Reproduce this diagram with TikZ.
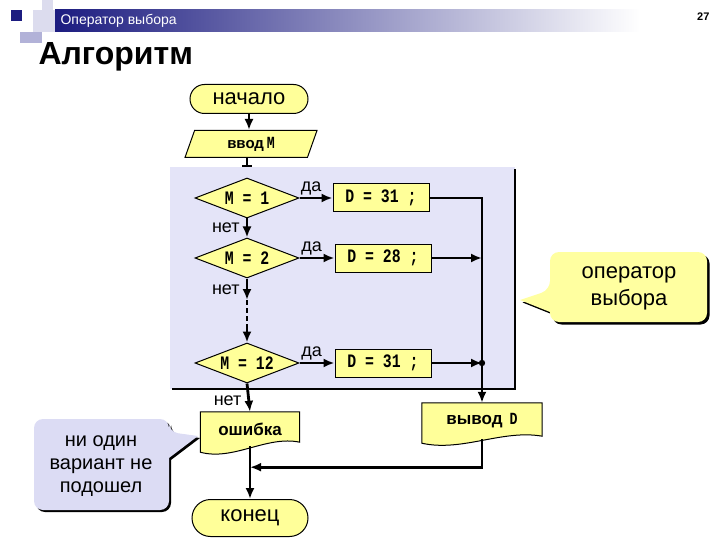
\documentclass[tikz,border=0pt]{standalone}
\usepackage{fontspec}
\setmainfont{Liberation Sans}
\newfontfamily\codefont{Liberation Mono}[FakeStretch=0.78]
\usetikzlibrary{calc}
\usetikzlibrary{arrows.meta}
\usetikzlibrary{shapes.geometric}
\usetikzlibrary{shapes.misc}
\definecolor{flowyellow}{RGB}{255, 255, 153}
\definecolor{noteyellow}{RGB}{255, 255, 160}
\definecolor{blocklavender}{RGB}{228, 228, 248}
\definecolor{notelavender}{RGB}{220, 220, 244}
\definecolor{headnavy}{RGB}{28, 28, 128}
\definecolor{decolight}{RGB}{220, 220, 238}
\definecolor{decomid}{RGB}{178, 178, 216}
\pgfdeclarelayer{back}
\pgfdeclarelayer{mid}
\pgfsetlayers{back,mid,main}
\tikzset{
  terminal/.style={rounded rectangle, draw, line width=1pt, fill=flowyellow, minimum width=118pt, minimum height=29pt, inner sep=0pt, font=\fontsize{22}{24}\selectfont},
  inputbox/.style={trapezium, trapezium left angle=56, trapezium right angle=124, trapezium stretches body, draw, line width=1pt, fill=flowyellow, minimum width=132pt, minimum height=27pt, inner sep=0pt},
  decision/.style={diamond, draw, line width=1pt, fill=flowyellow, aspect=2.6, minimum width=104pt, minimum height=40pt, inner sep=0pt, font=\codefont\bfseries\fontsize{19}{20}\selectfont},
  process/.style={rectangle, draw, line width=1pt, fill=flowyellow, minimum width=96pt, minimum height=28pt, inner sep=0pt, font=\codefont\bfseries\fontsize{19}{20}\selectfont},
  docbox/.style={rectangle, inner sep=0pt, font=\bfseries\fontsize{17}{19}\selectfont},
  flow/.style={line width=2.8pt, -{Latex[length=11pt, width=9pt]}},
  wire/.style={line width=2.8pt},
  lbl/.style={font=\fontsize{18}{20}\selectfont, inner sep=2pt},
  notetext/.style={align=center, inner sep=0pt},
}

\begin{document}
\begin{tikzpicture}[x=1pt, y=-1pt]
\useasboundingbox (0,0) rectangle (720,540);
% Header bar
\shade[left color=headnavy, right color=white] (55,10) rectangle (640,32);
\fill[decolight] (42,0) rectangle (53,10);
\fill[decolight] (33,10) rectangle (55,32);
\fill[decomid] (20,32) rectangle (42,43);
\fill[headnavy] (11,10) rectangle (22,21);
\node[anchor=west, text=white, font=\fontsize{14}{16}\selectfont] (header) at (57,21) {Оператор выбора};
\node[anchor=east, font=\bfseries\fontsize{11}{13}\selectfont] (pageno) at (713,17) {27};
\node[anchor=west, font=\bfseries\fontsize{32}{36}\selectfont] (title) at (35,57) {Алгоритм};

% Block of the choice
\begin{pgfonlayer}{back}
  \fill[blocklavender] (170,167) rectangle (515,389);
  \draw[line width=2.2pt] (172,389) -- (515,389) -- (515,169);
\end{pgfonlayer}

% Flowchart
\node[terminal] (start) at (249,99) {начало};
\node[inputbox] (input) at (251,144) {{\bfseries\fontsize{15}{17}\selectfont ввод} {\codefont\bfseries\fontsize{17}{17}\selectfont M}};
\node[decision] (d1) at (247,198) {M = 1};
\node[decision] (d2) at (247,258) {M = 2};
\node[decision] (d3) at (247,363) {M = 12};
\node[process] (b1) at (381,198) {D = 31 ;};
\node[process] (b2) at (383,258) {D = 28 ;};
\node[process] (b3) at (383,363) {D = 31 ;};
\node[docbox, minimum width=120pt, minimum height=36pt] (out) at (482,421) {вывод\hspace{7pt}{\codefont D}};
\node[docbox, minimum width=99pt, minimum height=34pt] (err) at (250,429) {ошибка};
\node[terminal, minimum width=116pt, minimum height=37pt] (stop) at (250,518) {конец};
\coordinate (cut) at (247,166);
\coordinate (gaptop) at (247,300);
\coordinate (gapbot) at (247,326);
\coordinate (merge) at ($(err.south)+(0,21)$);

% Document shapes
\begin{pgfonlayer}{mid}
  \filldraw[line width=1pt, fill=flowyellow] (out.north west) -- (out.north east) -- ($(out.south east)+(0,-3)$)
      .. controls +(-40,-7) and +(40,9) .. ($(out.south west)+(0,4)$) -- cycle;
  \filldraw[line width=1pt, fill=flowyellow] (err.north west) -- (err.north east) -- ($(err.south east)+(0,-4)$)
      .. controls +(-33,-7) and +(33,9) .. ($(err.south west)+(0,6)$) -- cycle;
\end{pgfonlayer}

% Connectors
\draw[flow] (start.south) -- (start.south |- input.north);
\draw[wire] (input.south -| d1.north) -- (cut);
\draw[wire] ($(cut)+(-5,0)$) -- ($(cut)+(5,0)$);
\draw[flow] (d1) -- (b1) node[lbl, pos=0.35, above] {да};
\draw[flow] (d2) -- (b2) node[lbl, pos=0.35, above] {да};
\draw[flow] (d3) -- (b3) node[lbl, pos=0.35, above] {да};
\draw[flow] (d1.south) -- (d2.north) node[lbl, midway, left=4pt] {нет};
\draw[flow] (d2.south) -- (gaptop) node[lbl, midway, left=4pt] {нет};
\draw[wire, dash pattern=on 5pt off 3pt] (gaptop) -- (gapbot);
\draw[flow] (gapbot) -- (d3.north);
\draw[flow] (d3.south) -- (err.north) node[lbl, pos=0.6, left=4pt] {нет};
\draw[flow] (b1.east) -- (b1.east -| out.north) -- (out.north);
\draw[flow] (b2.east) -- (b2.east -| out.north);
\draw[flow] (b3.east) -- (b3.east -| out.north);
\fill (b3.east -| out.north) circle (3.2pt);
\draw[flow] (out.south) |- (merge);
\draw[flow] (err.south) -- (stop.north);

% Note: operator
\fill[shift={(2.5,2.5)}, rounded corners=9pt] (550,312) -- (550,322) -- (707,322) -- (707,252) -- (550,252) -- (550,290) [sharp corners] -- (520,300) -- cycle;
\fill[noteyellow, rounded corners=9pt] (550,312) -- (550,322) -- (707,322) -- (707,252) -- (550,252) -- (550,290) [sharp corners] -- (520,300) -- cycle;
\node[notetext, font=\fontsize{22}{27}\selectfont] (opnote) at (629,288) {оператор\\выбора};

% Note: no variant
\fill[shift={(2,2)}, rounded corners=9pt] (169,458) -- (169,510) -- (34,510) -- (34,419) -- (169,419) -- (169,432) [sharp corners] -- (198,436) -- cycle;
\fill[notelavender, rounded corners=9pt] (169,458) -- (169,510) -- (34,510) -- (34,419) -- (169,419) -- (169,432) [sharp corners] -- (198,436) -- cycle;
\node[notetext, font=\fontsize{20}{23}\selectfont] (errnote) at (101,466) {ни один\\вариант не\\подошел};
\end{tikzpicture}
\end{document}
